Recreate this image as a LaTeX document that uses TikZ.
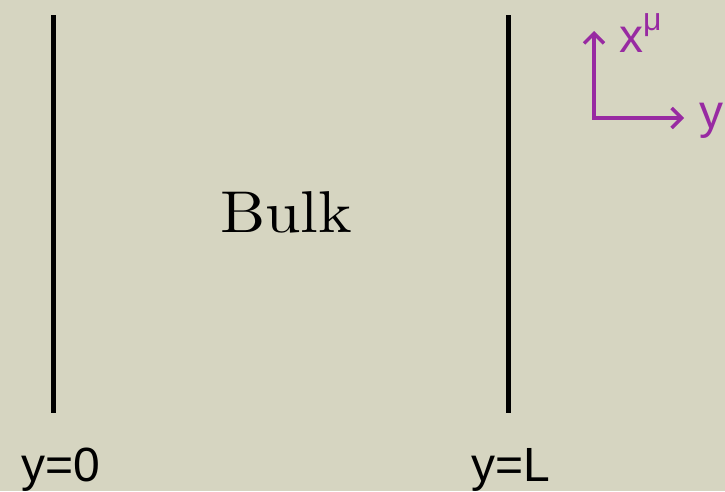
\documentclass[tikz,border=0pt]{standalone}
\usepackage{fontspec}
\newfontfamily\arialfont{Liberation Sans}
\newfontfamily\lmtenfont{lmroman10-regular.otf}
\usetikzlibrary{arrows.meta}
\definecolor{bg}{RGB}{214,213,193}
\definecolor{axispurple}{RGB}{152,42,162}
\begin{document}
\begin{tikzpicture}[x=1pt,y=-1pt,
  wall/.style={line width=5pt,black},
  axisline/.style={line width=3.5pt,axispurple,line join=miter,
    {Straight Barb[length=10pt,width=20pt]}-{Straight Barb[length=10pt,width=20pt]}},
  sanslabel/.style={font=\arialfont\fontsize{48}{50}\selectfont,inner sep=0pt,anchor=base},
  purplelabel/.style={sanslabel,text=axispurple,anchor=base west},
  bulklabel/.style={font=\lmtenfont\fontsize{59}{64}\selectfont,inner sep=0pt,anchor=base}]
  \fill[bg] (0,0) rectangle (725,491);
  \useasboundingbox (0,0) rectangle (725,491);
  % walls
  \coordinate (w0top) at (53,15);
  \coordinate (w0bot) at (53,413);
  \coordinate (wLtop) at (508,15);
  \coordinate (wLbot) at (508,413);
  \draw[wall] (w0top) -- (w0bot);
  \draw[wall] (wLtop) -- (wLbot);
  % labels
  \node[bulklabel] (bulk) at (286,232) {\scalebox{1.08}[1]{Bulk}};
  \node[sanslabel] (y0) at (61,481) {y=0};
  \node[sanslabel] (yL) at (511,481) {y=L};
  % axes
  \coordinate (orig) at (594,118);
  \coordinate (xtip) at (594,31);
  \coordinate (ytip) at (684,118);
  \draw[axisline] (xtip) -- (orig) -- (ytip);
  \node[purplelabel] (xmu) at (619,52) {x\raisebox{0.45em}{\fontsize{32}{34}\selectfont μ}};
  \node[purplelabel] (ylab) at (699,128) {y};
\end{tikzpicture}
\end{document}
